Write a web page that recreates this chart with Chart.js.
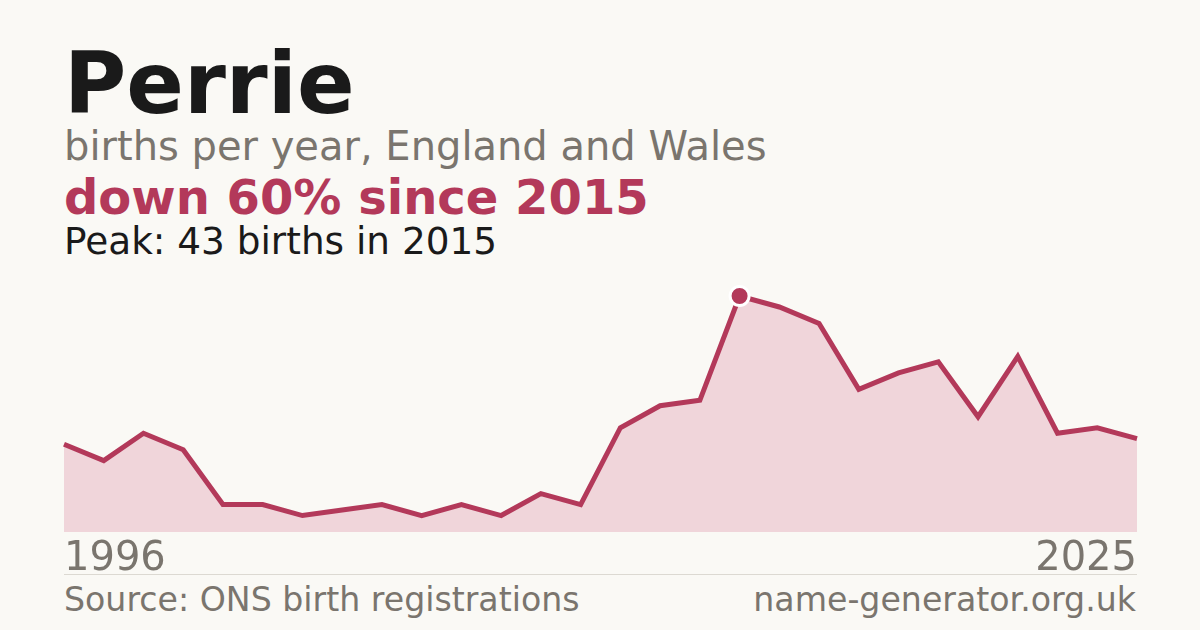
<!DOCTYPE html>
<html>
<head>
<meta charset="utf-8">
<script src="https://cdn.jsdelivr.net/npm/chart.js@4"></script>
<style>
  html, body { margin: 0; padding: 0; }
  body { width: 1200px; height: 630px; background: #faf9f5; position: relative; overflow: hidden;
         font-family: "DejaVu Sans", sans-serif; }
  .t { position: absolute; left: 64px; line-height: 1; white-space: nowrap; }
  #title { top: 41px; font-size: 85px; font-weight: bold; color: #1a1a1a; }
  #sub { top: 126px; font-size: 40px; color: #7a756e; }
  #change { top: 173px; font-size: 48px; font-weight: bold; color: #b3395a; }
  #peak { top: 223px; font-size: 37.4px; color: #1a1a1a; }
  #rule { position: absolute; left: 64px; top: 574px; width: 1073px; height: 1px; background: #dcd9d2; }
  #source { top: 583px; font-size: 33.2px; color: #7a756e; }
  #site { top: 583px; left: auto; right: 64px; font-size: 33.2px; color: #7a756e; }
  #wrap { position: absolute; left: 54px; top: 280px; width: 1093px; height: 300px; }
</style>
</head>
<body>
<div class="t" id="title">Perrie</div>
<div class="t" id="sub">births per year, England and Wales</div>
<div class="t" id="change">down 60% since 2015</div>
<div class="t" id="peak">Peak: 43 births in 2015</div>
<div id="wrap"><canvas id="myChart"></canvas></div>
<div id="rule"></div>
<div class="t" id="source">Source: ONS birth registrations</div>
<div class="t" id="site">name-generator.org.uk</div>
<script>
// years with a published count (a couple of low years are not in the series)
const years = [1996, 1997, 1998, 1999, 2000, 2001, 2003, 2004, 2005,
  2007, 2008, 2009, 2010, 2011, 2012, 2013, 2014, 2015, 2016, 2017,
  2018, 2019, 2020, 2021, 2022, 2023, 2024, 2025];
const births = [16, 13, 18, 15, 5, 5, 3, 4, 5, 3, 5, 3, 7, 5, 19, 23, 24,
  43, 41, 38, 26, 29, 31, 21, 32, 18, 19, 17];
const tickYears = ['1996', '2025'];

const red = '#b3395a';
const peakIndex = births.indexOf(Math.max(...births));

const data = {
    labels: years.map(String),
    datasets: [{
        data: births,
        borderColor: red,
        borderWidth: 5,
        backgroundColor: '#f0d5da',
        fill: 'origin',
        tension: 0,
        clip: false,
        pointRadius: births.map((v, i) => i === peakIndex ? 9.5 : 0),
        pointBackgroundColor: red,
        pointBorderColor: '#ffffff',
        pointBorderWidth: 3,
    }]
};

const config = {
    type: 'line',
    data: data,
    options: {
        responsive: true,
        maintainAspectRatio: false,
        animation: false,
        layout: { padding: { left: 10, right: 10, top: 16, bottom: 0 } },
        plugins: { legend: { display: false }, tooltip: { enabled: false } },
        scales: {
            x: {
                offset: false,
                grid: { display: false },
                border: { display: false },
                ticks: {
                    autoSkip: false,
                    maxRotation: 0,
                    align: 'inner',
                    padding: -4,
                    color: '#7a756e',
                    font: { family: 'DejaVu Sans', size: 40 },
                    callback: function (value, index, ticks) {
                        const label = this.getLabelForValue(value);
                        return tickYears.includes(label) ? label : '';
                    }
                }
            },
            y: {
                display: false,
                min: 0,
                max: 43
            }
        }
    }
};

// eslint-disable-next-line
const myChart = new Chart(
    document.getElementById('myChart'),
    config
);
</script>
</body>
</html>
